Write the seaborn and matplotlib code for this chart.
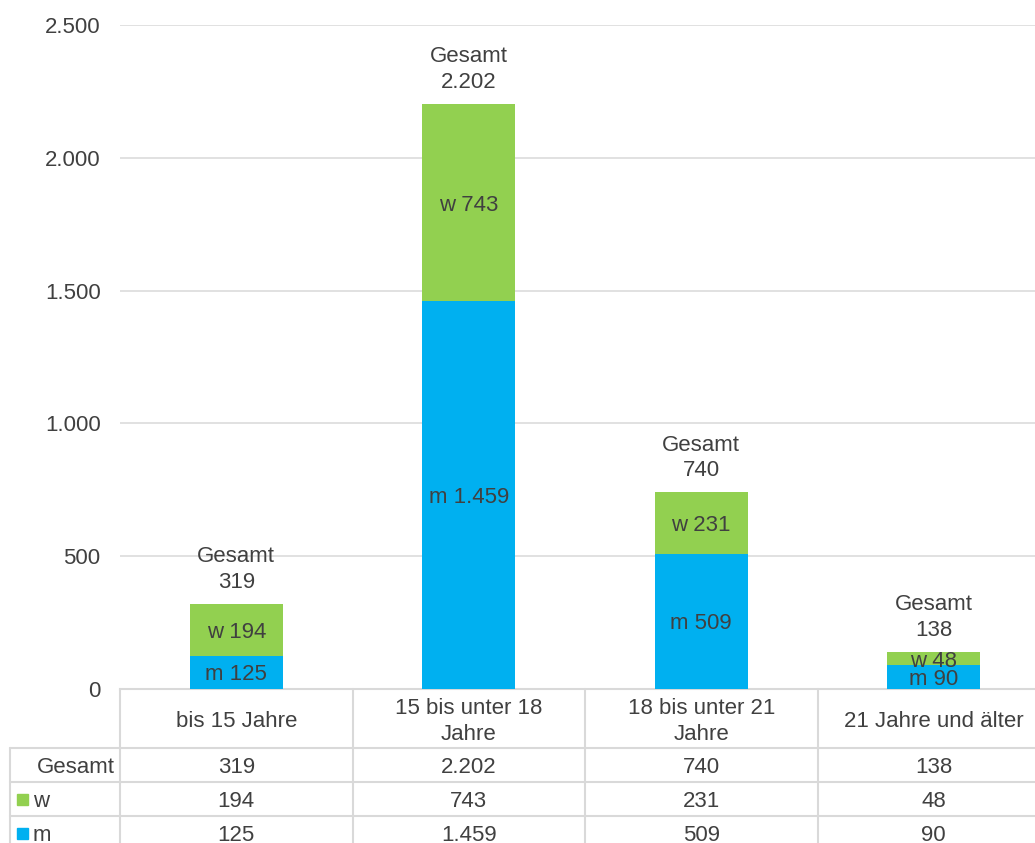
import matplotlib
matplotlib.use("Agg")
import numpy as np
import pandas as pd
import seaborn as sns
import matplotlib.pyplot as plt

# data
kategorien = ["bis 15 Jahre", "15 bis unter 18\nJahre", "18 bis unter 21\nJahre", "21 Jahre und älter"]
w_werte = [194, 743, 231, 48]
m_werte = [125, 1459, 509, 90]
gesamt = [319, 2202, 740, 138]

GRUEN = "#92D050"
BLAU = "#00B0F0"
TEXT = "#404040"
LINIE = "#D9D9D9"
FS = 16


def fmt(v):
	return f"{v:,}".replace(",", ".")


sns.set_theme(style="white")
plt.rcParams["font.family"] = ["Liberation Sans", "DejaVu Sans"]
plt.rcParams["font.size"] = FS

W, H = 1035, 843
fig = plt.figure(figsize=(W / 100, H / 100), dpi=100)

# main axes (right edge runs past the figure, like the reference)
x0, y0, x1, y1 = 120, 689, 1050, 25
ax = fig.add_axes([x0 / W, 1 - y0 / H, (x1 - x0) / W, (y0 - y1) / H])

df = pd.DataFrame({"kat": kategorien, "gesamt": gesamt, "m": m_werte})
sns.barplot(data=df, x="kat", y="gesamt", color=GRUEN, width=0.4, saturation=1, linewidth=0, ax=ax, zorder=3)
sns.barplot(data=df, x="kat", y="m", color=BLAU, width=0.4, saturation=1, linewidth=0, ax=ax, zorder=3)

ax.set_xlim(-0.5, 3.5)
ax.set_ylim(0, 2500)
ax.set_yticks(np.arange(0, 2501, 500))
ax.set_yticklabels([fmt(v) for v in range(0, 2501, 500)], color=TEXT, fontsize=FS)
ax.tick_params(axis="y", length=0, pad=14)
ax.set_xticks([])
ax.set_xlabel("")
ax.set_ylabel("")
ax.yaxis.grid(True, color=LINIE, linewidth=1.1)
ax.set_axisbelow(True)
for s in ["top", "right", "left"]:
	ax.spines[s].set_visible(False)
ax.spines["bottom"].set_color(LINIE)
ax.spines["bottom"].set_linewidth(1.5)

for i in range(len(kategorien)):
	m = m_werte[i]
	w = w_werte[i]
	ax.text(i, m / 2, f"m {fmt(m)}", ha="center", va="center_baseline", color=TEXT, fontsize=FS, zorder=4)
	ax.text(i, m + w / 2, f"w {fmt(w)}", ha="center", va="center_baseline", color=TEXT, fontsize=FS, zorder=4)
	ax.annotate(f"Gesamt\n{fmt(gesamt[i])}", (i, gesamt[i]), xytext=(0, 8), textcoords="offset points",
		ha="center", va="bottom", color=TEXT, fontsize=FS, linespacing=1.3)

# data table below the plot, drawn in pixel coordinates
tax = fig.add_axes([0, 0, 1, 1])
tax.set_xlim(0, W)
tax.set_ylim(H, 0)
tax.axis("off")
tax.patch.set_alpha(0)

cw = (x1 - x0) / len(kategorien)
kanten = [x0 + k * cw for k in range(len(kategorien) + 1)]
zeilen = [689, 748, 782, 816, 850]
for xe in kanten:
	tax.plot([xe, xe], [689, 850], color=LINIE, lw=1.5, clip_on=False)
tax.plot([10, 10], [748, 850], color=LINIE, lw=1.5)
for ye in zeilen[1:-1]:
	tax.plot([10, x1], [ye, ye], color=LINIE, lw=1.5, clip_on=False)

for i, k in enumerate(kategorien):
	xc = x0 + (i + 0.5) * cw
	tax.text(xc, (zeilen[0] + zeilen[1]) / 2 + 3, k, ha="center", va="center", color=TEXT, fontsize=FS, linespacing=1.25)
	tax.text(xc, (zeilen[1] + zeilen[2]) / 2, fmt(gesamt[i]), ha="center", va="center_baseline", color=TEXT, fontsize=FS)
	tax.text(xc, (zeilen[2] + zeilen[3]) / 2, fmt(w_werte[i]), ha="center", va="center_baseline", color=TEXT, fontsize=FS)
	tax.text(xc, (zeilen[3] + zeilen[4]) / 2, fmt(m_werte[i]), ha="center", va="center_baseline", color=TEXT, fontsize=FS)

tax.text(115, (zeilen[1] + zeilen[2]) / 2, "Gesamt", ha="right", va="center_baseline", color=TEXT, fontsize=FS)
for r, (lab, col) in enumerate([("w", GRUEN), ("m", BLAU)]):
	yc = (zeilen[2 + r] + zeilen[3 + r]) / 2
	tax.add_patch(plt.Rectangle((17, yc - 5.5), 11, 11, color=col))
	tax.text(33, yc, lab, ha="left", va="center_baseline", color=TEXT, fontsize=FS)

fig.savefig("out.png", dpi=100)
